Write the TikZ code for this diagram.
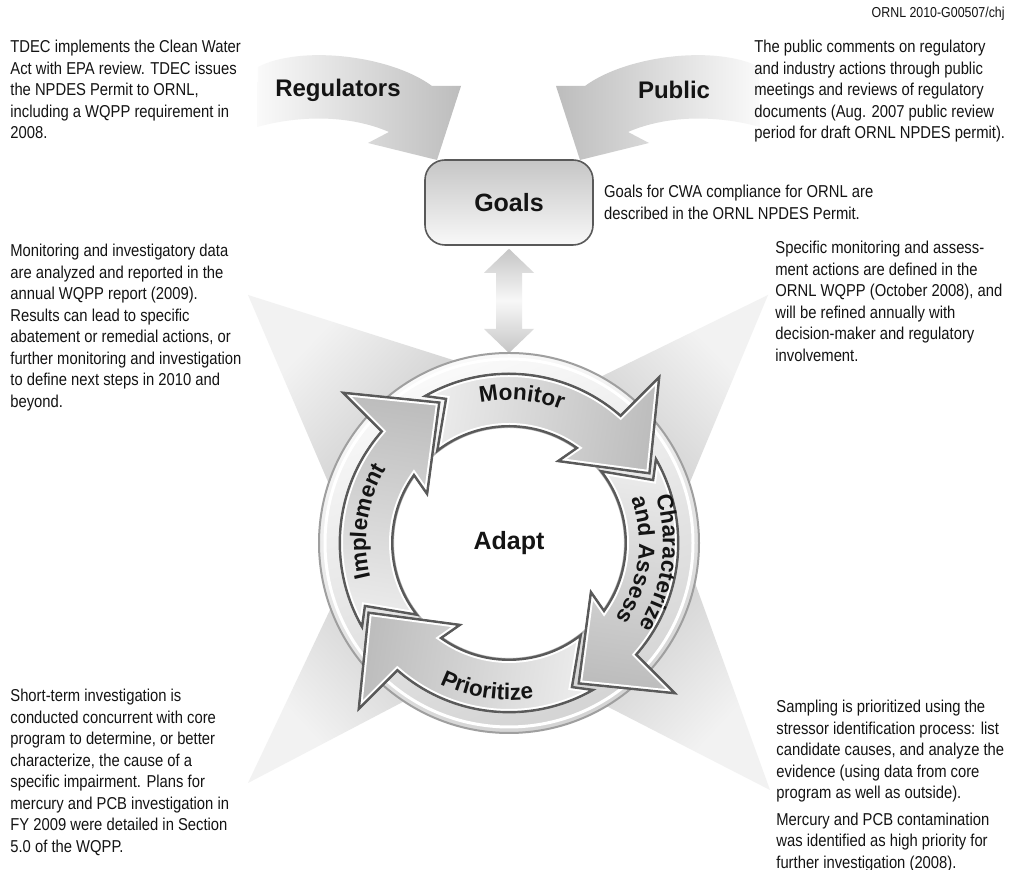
\documentclass[tikz,border=0pt]{standalone}
\usepackage{fontspec}
\setmainfont{Liberation Sans}[FakeStretch=0.86]
\newfontfamily\labelfont{Liberation Sans}
\usetikzlibrary{positioning, calc, decorations.text}

\definecolor{edgegray}{HTML}{595959}
\definecolor{inkgray}{HTML}{141414}

\newcommand{\arclabel}{\labelfont\bfseries\fontsize{11.3}{12}\selectfont}

% one arrow of the ring, #1 = angle of its tip
\newcommand{\cyclearrow}[1]{%
  ({#1+94.5}:170) arc[start angle={#1+94.5}, end angle={#1+23}, radius=170]
  -- ({#1+22}:226) -- (#1:157) -- ({#1+34}:94) -- ({#1+29}:116)
  arc[start angle={#1+29}, end angle={#1+102.9}, radius=116]
  -- ({#1+88}:157) -- cycle}

% #1 = tip angle, #2 = shading angle
\newcommand{\cyclestep}[2]{%
  \begin{scope}
    \clip \cyclearrow{#1};
    \shade[top color=gray!14, bottom color=gray!52, shading angle=#2] \cyclearrow{#1};
    \draw[white, line width=4pt] \cyclearrow{#1};
    \draw[edgegray, line width=2pt] \cyclearrow{#1};
  \end{scope}
  \draw[edgegray, line width=0.4pt] \cyclearrow{#1};}

\begin{document}
\begin{tikzpicture}[
                x=0.5pt, y=0.5pt,
                note/.style={align=left, anchor=north west, inner sep=0pt, text=inkgray,
                    font=\fontsize{8.6}{10.75}\selectfont},
                bigword/.style={text=inkgray, inner sep=0pt,
                    font=\labelfont\bfseries\fontsize{12}{14}\selectfont},
                goalsbox/.style={draw=edgegray, line width=0.8pt, rounded corners=10pt,
                    top color=gray!45, bottom color=gray!5,
                    minimum width=84pt, minimum height=42.5pt, text=inkgray,
                    font=\labelfont\bfseries\fontsize{12.5}{14}\selectfont},
                fan/.style={top color=gray!10, bottom color=gray!80},
                ringtext/.style={decorate, decoration={text along path, text align=center,
                    text color=inkgray}}
            ]
                \useasboundingbox (0,0) rectangle (1012,870);
                \fill[white] (0,0) rectangle (1012,870);

                % four fans behind the ring
                \shade[fan, shading angle=46] (248,575) -- (620,457) -- (400,220) -- cycle;
                \shade[fan, shading angle=-46] (768,575) -- (400,395) -- (620,220) -- cycle;
                \shade[fan, shading angle=133] (248,87) -- (420,450) -- (630,287) -- cycle;
                \shade[fan, shading angle=-133] (770,80) -- (636,450) -- (390,275) -- cycle;

                % curved arrows into the goals box
                \shade[left color=gray!4, right color=gray!52]
                (258,803) .. controls (300,825) and (390,815) .. (432,784) -- (461,784)
                -- (437,710) -- (368,727) -- (389,738)
                .. controls (350,755) and (300,755) .. (257,743) -- cycle;
                \shade[left color=gray!52, right color=gray!4]
                (759,803) .. controls (717,825) and (627,815) .. (585,784) -- (556,784)
                -- (580,710) -- (649,727) -- (628,738)
                .. controls (667,755) and (717,755) .. (760,743) -- cycle;
                \node[bigword] (reg) at (338,780) {Regulators};
                \node[bigword] (pub) at (674,780) {Public};

                \node[goalsbox] (goals) at (509,667.5) {Goals};
                \coordinate (ring) at (509,327);
                \coordinate (ringtop) at (509,517);

                % double arrow between goals and ring
                \shade[top color=gray!45, bottom color=gray!45, middle color=gray!6]
                ($(goals.south)+(0,-3)$) -- ++(25,-24) -- ++(-12,0)
                -- ($(ringtop)+(13,24)$) -- ++(12,0) -- (ringtop) -- ++(-25,24) -- ++(12,0)
                -- ($(goals.south)+(-13,-27)$) -- ++(-12,0) -- cycle;

                \begin{scope}[shift={(ring)}]
                    \shade[top color=gray!4, bottom color=gray!34, shading angle=20]
                    (0,0) circle[radius=190];
                    \fill[white] (0,0) circle[radius=116];
                    \draw[white, line width=1.5pt] (0,0) circle[radius=184];
                    \draw[gray!75, line width=1pt] (0,0) circle[radius=190];
                    \draw[gray!60, line width=1pt] (0,0) circle[radius=116];

                    \cyclestep{26}{81}
                    \cyclestep{-64}{-9}
                    \cyclestep{-154}{-99}
                    \cyclestep{116}{171}

                    \path[ringtext, decoration={text={|\arclabel|Monitor}}]
                    (118:143) arc[start angle=118, end angle=52, radius=143];
                    \path[ringtext, decoration={text={|\arclabel|Characterize}}]
                    (30:154) arc[start angle=30, end angle=-45, radius=154];
                    \path[ringtext, decoration={text={|\arclabel|and Assess}}]
                    (30:130) arc[start angle=30, end angle=-45, radius=130];
                    \path[ringtext, decoration={text={|\arclabel|Prioritize}}]
                    (-135:157) arc[start angle=-135, end angle=-62, radius=157];
                    \path[ringtext, decoration={text={|\arclabel|Implement}}]
                    (210:143) arc[start angle=210, end angle=133, radius=143];
                \end{scope}
                \node[goalsbox, draw=none, top color=white, bottom color=white,
                    minimum width=0pt, minimum height=0pt] (adapt) at (ring) {Adapt};

                \node[note, font=\fontsize{7.2}{8.5}\selectfont, anchor=base east]
                (tag) at (1005,852) {ORNL 2010-G00507/chj};

                \node[note] (tdec) at (10,830) {TDEC implements the Clean Water\\
                    Act with EPA review. TDEC issues\\
                    the NPDES Permit to ORNL,\\
                    including a WQPP requirement in\\
                    2008.};
                \node[note] (pubnote) at (754,830) {The public comments on regulatory\\
                    and industry actions through public\\
                    meetings and reviews of regulatory\\
                    documents (Aug. 2007 public review\\
                    period for draft ORNL NPDES permit).};
                \node[note, right=5pt of goals] (goalsnote) {Goals for CWA compliance for ORNL are\\
                    described in the ORNL NPDES Permit.};
                \node[note] (monnote) at (10,626) {Monitoring and investigatory data\\
                    are analyzed and reported in the\\
                    annual WQPP report (2009).\\
                    Results can lead to specific\\
                    abatement or remedial actions, or\\
                    further monitoring and investigation\\
                    to define next steps in 2010 and\\
                    beyond.};
                \node[note] (charnote) at (775,629) {Specific monitoring and assess-\\
                    ment actions are defined in the\\
                    ORNL WQPP (October 2008), and\\
                    will be refined annually with\\
                    decision-maker and regulatory\\
                    involvement.};
                \node[note] (impnote) at (10,181) {Short-term investigation is\\
                    conducted concurrent with core\\
                    program to determine, or better\\
                    characterize, the cause of a\\
                    specific impairment. Plans for\\
                    mercury and PCB investigation in\\
                    FY 2009 were detailed in Section\\
                    5.0 of the WQPP.};
                \node[note] (prinote) at (776,170) {Sampling is prioritized using the\\
                    stressor identification process: list\\
                    candidate causes, and analyze the\\
                    evidence (using data from core\\
                    program as well as outside).\\[2.5pt]
                    Mercury and PCB contamination\\
                    was identified as high priority for\\
                    further investigation (2008).};
            \end{tikzpicture}
\end{document}
